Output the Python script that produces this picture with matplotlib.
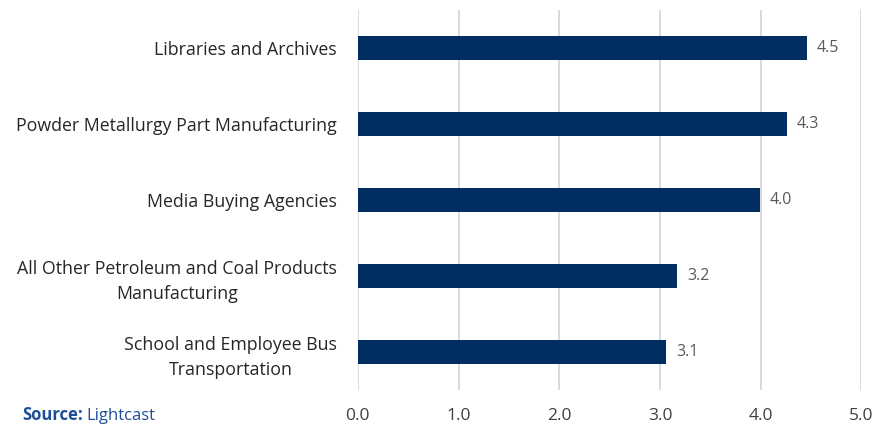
import matplotlib
matplotlib.use('Agg')
import matplotlib.pyplot as plt

# Industries (top to bottom) and their values
industries = [
    'Libraries and Archives',
    'Powder Metallurgy Part Manufacturing',
    'Media Buying Agencies',
    'All Other Petroleum and Coal Products\nManufacturing',
    'School and Employee Bus\nTransportation',
]
values = [4.46, 4.26, 3.99, 3.17, 3.06]
x_ticks = [0.0, 1.0, 2.0, 3.0, 4.0, 5.0]

plt.rcParams['font.family'] = ['Open Sans', 'DejaVu Sans']

bar_color = '#002D62'
grid_color = '#D9D9D9'

fig = plt.figure(figsize=(8.88, 4.25), dpi=100)
ax = fig.add_axes([0.403, 0.082, 0.567, 0.894])

y_pos = list(range(len(industries)))[::-1]
ax.barh(y_pos, values, height=0.31, color=bar_color, zorder=3)

for y, v in zip(y_pos, values):
    ax.text(v + 0.1, y, f'{v:.1f}', va='center', ha='left',
            fontsize=11.5, color='#595959')

ax.set_xlim(0, 5)
ax.set_ylim(-0.5, len(industries) - 0.5)
ax.set_xticks(x_ticks)
ax.set_xticklabels([f'{t:.1f}' for t in x_ticks], fontsize=12.5, color='#404040')
ax.set_yticks(y_pos)
ax.set_yticklabels(industries, fontsize=12.75, color='#262626',
                   multialignment='center', linespacing=1.5)
ax.tick_params(axis='both', length=0)
ax.tick_params(axis='x', pad=13)
ax.tick_params(axis='y', pad=15)

ax.grid(axis='x', color=grid_color, linewidth=1.4, zorder=0)
ax.grid(axis='y', visible=False)
for s in ax.spines.values():
    s.set_visible(False)

# source note at the bottom edge
src = fig.text(0.025, 0.002, 'Source:', fontsize=12, fontweight='bold',
               color='#1F4E99', va='bottom', ha='left')
fig.canvas.draw()
bb = src.get_window_extent().transformed(fig.transFigure.inverted())
fig.text(bb.x1 + 0.004, 0.002, 'Lightcast', fontsize=12, color='#1F4E99',
         va='bottom', ha='left')

fig.savefig('out.png', dpi=100, facecolor='white')
